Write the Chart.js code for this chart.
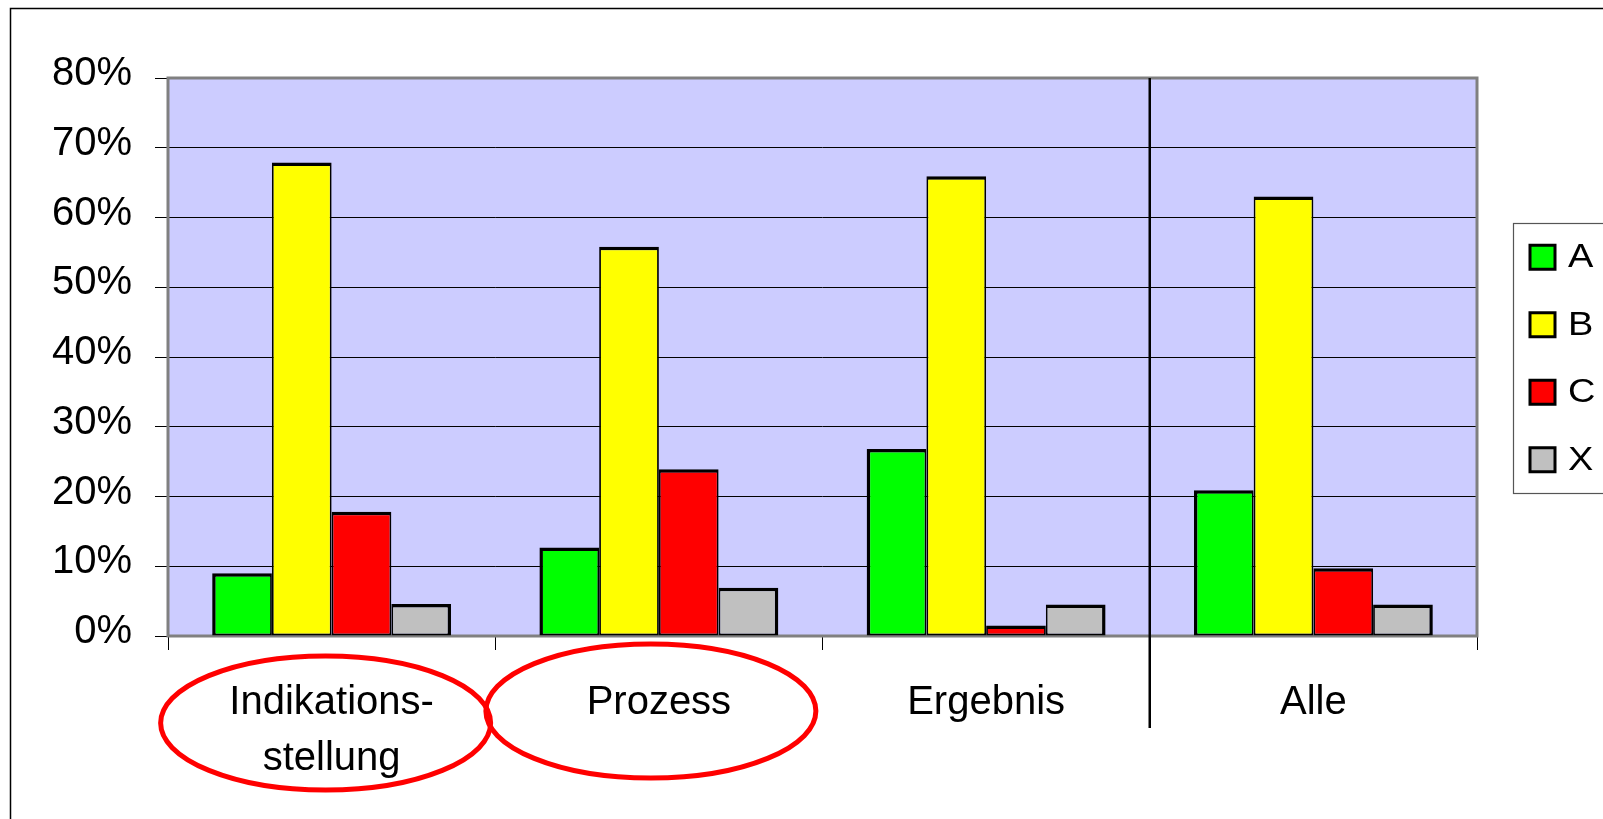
<!DOCTYPE html>
<html>
<head>
<meta charset="utf-8">
<script src="https://cdn.jsdelivr.net/npm/chart.js@4"></script>
<style>
    html, body { margin: 0; padding: 0; background: #fff; }
    #wrap { width: 1603px; height: 819px; }
</style>
</head>
<body>
<div id="wrap"><canvas id="chart"></canvas></div>
<script>
// Anteile in Prozent je Kategorie
var kategorien = [['Indikations-', 'stellung'], 'Prozess', 'Ergebnis', 'Alle'];
var gruppen = ['A', 'B', 'C', 'X'];
var anteilA = [9.0, 12.7, 26.8, 20.9];
var anteilB = [67.9, 55.8, 65.9, 63.0];
var anteilC = [17.8, 23.9, 1.5, 9.7];
var anteilX = [4.6, 6.9, 4.5, 4.5];
var yTicks = [0, 10, 20, 30, 40, 50, 60, 70, 80];
var markiert = [0, 1];   // eingekreiste Kategorien

var schrift = '"Liberation Sans", Arial, sans-serif';
var farben = ['#00ff00', '#ffff00', '#ff0000', '#c0c0c0'];
var werte = [anteilA, anteilB, anteilC, anteilX];

// innere Kanten dünner, damit aneinanderliegende Balken nur eine Linie zeigen
function rand(i) {
    return {
        top: 3.5,
        bottom: 2,
        left: i === 0 ? 3.5 : 1.8,
        right: i === gruppen.length - 1 ? 3.5 : 1.8
    };
}

var datasets = gruppen.map(function (g, i) {
    return {
        label: g,
        data: werte[i],
        backgroundColor: farben[i],
        borderColor: '#000',
        borderWidth: rand(i),
        borderSkipped: false
    };
});

var plotFlaeche = {
    id: 'plotFlaeche',
    beforeDraw: function (chart) {
        var a = chart.chartArea, ctx = chart.ctx;
        ctx.save();
        ctx.fillStyle = '#ccccff';
        ctx.fillRect(a.left, a.top, a.right - a.left, a.bottom - a.top);
        ctx.restore();
    },
    beforeDatasetsDraw: function (chart) {
        var a = chart.chartArea, ctx = chart.ctx;
        ctx.save();
        ctx.strokeStyle = '#808080';
        ctx.lineWidth = 3;
        ctx.strokeRect(a.left, a.top, a.right - a.left, a.bottom - a.top);
        ctx.restore();
    },
    afterDraw: function (chart) {
        var a = chart.chartArea, ctx = chart.ctx, x = chart.scales.x;
        ctx.save();

        // Rahmen des Diagramms
        ctx.strokeStyle = '#000';
        ctx.lineWidth = 1.5;
        ctx.strokeRect(10.5, 8.5, chart.width + 20, chart.height + 20);

        // Trennlinie vor "Alle"
        var xt = (x.getPixelForValue(2) + x.getPixelForValue(3)) / 2;
        ctx.lineWidth = 2.5;
        ctx.beginPath();
        ctx.moveTo(xt, a.top);
        ctx.lineTo(xt, a.bottom + 92);
        ctx.stroke();

        // Kreise um Kategorien
        var kreise = [{ dx: -6, dy: 87, rx: 165, ry: 67 }, { dx: -8, dy: 75, rx: 165, ry: 67 }];
        ctx.strokeStyle = '#ff0000';
        ctx.lineWidth = 5;
        markiert.forEach(function (k, i) {
            var e = kreise[i];
            ctx.beginPath();
            ctx.ellipse(x.getPixelForValue(k) + e.dx, a.bottom + e.dy, e.rx, e.ry, 0, 0, Math.PI * 2);
            ctx.stroke();
        });

        // Legende mit Rahmen
        var lx = 1513, cy = (a.top + a.bottom) / 2 + 1.5, abstand = 67.5;
        var n = chart.data.datasets.length;
        var top = cy - abstand * n / 2;
        ctx.fillStyle = '#fff';
        ctx.fillRect(lx, top, chart.width, abstand * n);
        ctx.strokeStyle = '#555';
        ctx.lineWidth = 1.2;
        ctx.strokeRect(lx + 0.5, top, chart.width, abstand * n);
        ctx.font = '33px ' + schrift;
        ctx.textBaseline = 'middle';
        chart.data.datasets.forEach(function (ds, i) {
            var y = cy + (i - (n - 1) / 2) * abstand;
            ctx.fillStyle = ds.backgroundColor;
            ctx.fillRect(lx + 17, y - 12, 25, 24);
            ctx.strokeStyle = '#000';
            ctx.lineWidth = 3;
            ctx.strokeRect(lx + 17, y - 12, 25, 24);
            // Legendenschrift etwas breit gezogen
            ctx.save();
            ctx.translate(lx + 55, y + 1);
            ctx.scale(1.15, 1);
            ctx.fillStyle = '#000';
            ctx.fillText(ds.label, 0, 0);
            ctx.restore();
        });
        ctx.restore();
    }
};

new Chart('chart', {
    type: 'bar',
    data: {
        labels: kategorien,
        datasets: datasets
    },
    options: {
        responsive: true,
        maintainAspectRatio: false,
        animation: false,
        layout: {
            padding: { left: 52, top: 78, right: 126, bottom: 0 }
        },
        datasets: {
            bar: { categoryPercentage: 0.73, barPercentage: 1.0 }
        },
        plugins: {
            legend: { display: false },
            tooltip: { enabled: false }
        },
        scales: {
            x: {
                offset: true,
                grid: {
                    offset: true,
                    drawOnChartArea: false,
                    tickLength: 14,
                    color: '#000',
                    lineWidth: 1
                },
                border: { display: false },
                ticks: {
                    color: '#000',
                    padding: 25,
                    maxRotation: 0,
                    autoSkip: false,
                    font: { family: schrift, size: 40, lineHeight: 1.4 }
                },
                afterFit: function (s) { s.height = 183; }
            },
            y: {
                min: yTicks[0],
                max: yTicks[yTicks.length - 1],
                afterBuildTicks: function (s) {
                    s.ticks = yTicks.map(function (v) { return { value: v }; });
                },
                grid: { color: '#000', lineWidth: 1, tickLength: 13 },
                border: { display: false },
                ticks: {
                    color: '#000',
                    padding: 23,
                    labelOffset: -4,
                    font: { family: schrift, size: 40 },
                    callback: function (v) { return v + '%'; }
                },
                afterFit: function (s) { s.width = 116; }
            }
        }
    },
    plugins: [plotFlaeche]
});
</script>
</body>
</html>
